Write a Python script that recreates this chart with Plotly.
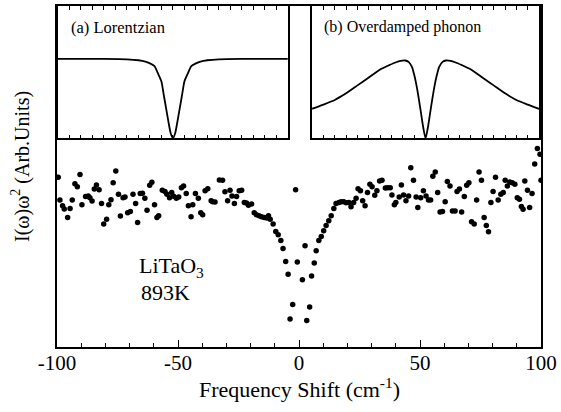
import plotly.graph_objects as go

# ---------------- data ----------------
# main panel: LiTaO3, 893K  (frequency shift in cm^-1, intensity in arb. units)
freq = [-99.5, -98.8, -97.7, -97.0, -95.6, -94.6, -93.7, -92.6, -91.6, -90.5,
        -89.7, -88.2, -87.1, -86.4, -85.5, -84.6, -83.7, -82.6, -81.6, -80.7,
        -79.5, -78.6, -77.7, -76.8, -75.7, -74.6, -73.8, -72.7, -71.9, -70.8,
        -69.7, -68.6, -67.5, -66.7, -65.6, -64.7, -63.7, -62.8, -61.7, -60.8,
        -59.7, -58.7, -58.0, -56.5, -55.4, -54.6, -53.5, -52.6, -51.8, -50.7,
        -49.7, -48.6, -47.7, -46.6, -45.7, -44.6, -43.9, -42.8, -41.6, -40.6,
        -39.8, -38.8, -37.7, -36.3, -35.7, -34.7, -32.9, -31.6, -30.6, -29.5,
        -28.5, -27.7, -26.7, -25.8, -24.7, -23.7, -22.6, -21.7, -20.9, -19.6,
        -18.5, -17.6, -16.5, -15.5, -14.4, -13.3, -12.6, -11.9, -10.7, -9.6,
        -8.6, -7.5, -6.6, -5.5, -4.5, -3.7, -2.6, -1.4, -0.7, 1.4,
        2.5, 3.2, 4.4, 5.2, 6.3, 7.1, 8.2, 9.2, 10.2, 11.2,
        12.3, 13.3, 14.4, 15.3, 16.5, 17.4, 18.5, 19.5, 20.6, 21.5,
        22.6, 23.6, 24.4, 25.4, 26.3, 27.3, 28.3, 29.3, 30.2, 31.3,
        32.2, 33.3, 34.3, 35.7, 36.6, 37.7, 38.4, 39.4, 40.0, 41.4,
        42.3, 43.2, 44.2, 45.3, 46.2, 47.3, 48.4, 49.1, 50.3, 51.4,
        52.5, 53.5, 54.4, 55.3, 56.3, 57.3, 58.3, 59.3, 60.4, 61.3,
        62.4, 63.4, 64.5, 65.3, 66.3, 67.2, 68.3, 69.3, 70.2, 71.3,
        72.4, 73.4, 74.4, 75.4, 76.5, 77.4, 78.3, 79.3, 80.2, 81.2,
        82.3, 83.4, 84.4, 85.2, 86.1, 87.1, 88.1, 89.2, 90.2, 91.1,
        91.9, 92.6, 93.3, 94.4, 95.3, 96.3, 97.4, 98.5, 99.6, 100.0]
intensity = [49.8, 43.1, 41.4, 40.5, 38.0, 40.6, 43.1, 47.9, 47.0, 50.6,
             41.7, 44.1, 44.3, 43.8, 42.8, 46.3, 47.5, 46.1, 42.1, 36.1,
             37.5, 41.7, 43.2, 48.2, 51.6, 44.8, 38.4, 43.8, 44.0, 39.4,
             39.7, 44.8, 42.1, 36.5, 45.0, 45.1, 43.6, 40.1, 47.4, 48.3,
             41.7, 38.0, 38.5, 46.0, 45.6, 44.8, 43.8, 45.3, 44.2, 43.6,
             44.0, 46.7, 47.2, 45.0, 41.4, 38.2, 41.7, 45.0, 43.6, 39.4,
             38.8, 45.8, 46.4, 42.9, 42.6, 42.5, 49.0, 48.9, 45.5, 42.9,
             46.0, 44.3, 42.1, 44.1, 45.8, 46.0, 42.4, 42.2, 41.6, 41.9,
             39.4, 38.8, 38.5, 38.2, 38.0, 37.8, 38.5, 37.5, 36.1, 33.9,
             32.9, 31.2, 28.9, 25.1, 21.3, 8.2, 12.5, 46.1, 24.9, 19.7,
             29.7, 7.8, 11.7, 20.8, 24.6, 28.2, 31.2, 32.4, 34.1, 35.6,
             37.0, 38.5, 40.6, 42.1, 42.4, 42.6, 42.6, 42.3, 42.4, 41.1,
             42.4, 43.6, 46.4, 45.8, 42.9, 41.4, 45.3, 47.7, 47.0, 44.5,
             45.8, 48.7, 48.9, 46.6, 46.7, 46.7, 44.6, 41.7, 42.4, 44.0,
             47.5, 44.6, 42.9, 44.3, 52.6, 48.9, 44.0, 40.9, 43.8, 45.8,
             44.3, 43.1, 43.1, 50.1, 51.3, 45.3, 39.6, 39.7, 42.6, 48.5,
             47.2, 39.9, 39.9, 45.6, 46.3, 39.6, 44.1, 47.4, 48.2, 36.7,
             36.1, 43.1, 51.3, 48.9, 38.0, 35.6, 33.8, 42.4, 45.6, 49.8,
             43.1, 44.8, 45.3, 48.9, 47.2, 48.4, 48.2, 47.7, 43.8, 43.3,
             41.2, 40.4, 48.7, 46.0, 40.9, 45.0, 53.7, 58.2, 56.5, 48.9]

# inset (a): Lorentzian
lor_x = [-100, -80, -60, -40, -30, -24, -20, -16, -13, -10, -8, -6, -4, -2, 0,
         2, 4, 6, 8, 10, 13, 16, 20, 24, 30, 40, 60, 80, 100]
lor_y = [0.60, 0.60, 0.60, 0.597, 0.59, 0.58, 0.566, 0.545, 0.49, 0.43, 0.33, 0.23, 0.13, 0.04, 0.0,
         0.04, 0.13, 0.23, 0.33, 0.43, 0.49, 0.545, 0.566, 0.58, 0.59, 0.597, 0.60, 0.60, 0.60]

# inset (b): overdamped phonon
od_x = [-100, -90, -80, -70, -60, -50, -40, -32, -26, -22, -18, -15, -12, -10, -8, -6, -4, -2, 0,
        2, 4, 6, 8, 10, 12, 15, 18, 22, 26, 32, 40, 50, 60, 70, 80, 90, 100]
od_y = [0.223, 0.255, 0.29, 0.34, 0.40, 0.46, 0.52, 0.553, 0.575, 0.585, 0.588, 0.578, 0.54, 0.48, 0.40, 0.30, 0.19, 0.08, 0.0,
        0.08, 0.19, 0.30, 0.40, 0.48, 0.54, 0.578, 0.588, 0.585, 0.575, 0.553, 0.52, 0.46, 0.40, 0.34, 0.29, 0.255, 0.223]

x_tickvals = [-100, -50, 0, 50, 100]
x_ticktext = ["-100", "-50", "0", "50", "100"]

# ---------------- figure ----------------
FONT = "Liberation Serif"
fig = go.Figure()

fig.add_trace(go.Scatter(x=freq, y=intensity, mode="markers",
                         marker=dict(color="black", size=5.5),
                         xaxis="x", yaxis="y", showlegend=False))
fig.add_trace(go.Scatter(x=lor_x, y=lor_y, mode="lines",
                         line=dict(color="black", width=1.8, shape="spline", smoothing=0.6),
                         xaxis="x2", yaxis="y2", showlegend=False))
fig.add_trace(go.Scatter(x=od_x, y=od_y, mode="lines",
                         line=dict(color="black", width=1.8, shape="spline", smoothing=0.6),
                         xaxis="x3", yaxis="y3", showlegend=False))


def inset_xaxis(domain, anchor):
    return dict(domain=domain, anchor=anchor, range=[-100, 100],
                showline=True, linecolor="black", linewidth=1.5,
                mirror="allticks", ticks="inside", ticklen=4, tickcolor="black", tickwidth=1.2,
                tickmode="linear", tick0=0, dtick=50, showticklabels=False,
                showgrid=False, zeroline=False,
                minor=dict(ticks="inside", ticklen=4, tickcolor="black", tickwidth=1.2,
                           dtick=10, tick0=0, showgrid=False))


def inset_yaxis(domain, anchor):
    return dict(domain=domain, anchor=anchor, range=[0, 1],
                showline=True, linecolor="black", linewidth=1.5, mirror=True,
                ticks="", showticklabels=False, showgrid=False, zeroline=False)


fig.update_layout(
    width=561, height=412,
    margin=dict(l=57, r=18, t=4, b=65),
    paper_bgcolor="white", plot_bgcolor="white",
    font=dict(family=FONT, color="black", size=21),
    xaxis=dict(domain=[0, 1], range=[-100, 100], showline=True, linecolor="black", linewidth=1.5,
               mirror=True, ticks="inside", ticklen=7, tickcolor="black", tickwidth=1.3,
               tickmode="array", tickvals=x_tickvals, ticktext=x_ticktext,
               ticklabelstandoff=-4,
               showgrid=False, zeroline=False,
               minor=dict(ticks="inside", ticklen=4, tickcolor="black", tickwidth=1.2,
                          tickmode="linear", tick0=0, dtick=10, showgrid=False)),
    yaxis=dict(domain=[0, 1], range=[0, 100], showline=True, linecolor="black", linewidth=1.5,
               mirror=True, showticklabels=False, showgrid=False, zeroline=False),
    xaxis2=inset_xaxis([0.002, 0.477], "y2"),
    yaxis2=inset_yaxis([0.612, 1.0], "x2"),
    xaxis3=inset_xaxis([0.527, 0.996], "y3"),
    yaxis3=inset_yaxis([0.612, 1.0], "x3"),
)

fig.add_annotation(text="(a) Lorentzian", xref="x2", yref="y2", x=-90, y=0.84,
                   xanchor="left", yanchor="middle", showarrow=False,
                   font=dict(family=FONT, size=16.5, color="black"))
fig.add_annotation(text="(b) Overdamped phonon", xref="x3", yref="y3", x=-91.5, y=0.84,
                   xanchor="left", yanchor="middle", showarrow=False,
                   font=dict(family=FONT, size=16, color="black"))
fig.add_annotation(text="LiTaO<sub>3</sub>", xref="x", yref="y", x=-67, y=23.5,
                   xanchor="left", yanchor="middle", showarrow=False,
                   font=dict(family=FONT, size=22, color="black"))
fig.add_annotation(text="893K", xref="x", yref="y", x=-66, y=16.0,
                   xanchor="left", yanchor="middle", showarrow=False,
                   font=dict(family=FONT, size=22, color="black"))
fig.add_annotation(text="Frequency Shift (cm<sup>-1</sup>)", xref="paper", yref="paper",
                   x=0.5, y=-0.12, xanchor="center", yanchor="middle", showarrow=False,
                   font=dict(family=FONT, size=22, color="black"))
fig.add_annotation(text="I(&#969;)&#969;<sup>2</sup> (Arb.Units)", xref="paper", yref="paper",
                   x=-0.075, y=0.53, xanchor="center", yanchor="middle", showarrow=False,
                   textangle=-90, font=dict(family=FONT, size=20, color="black"))

fig.write_html("out.html")
